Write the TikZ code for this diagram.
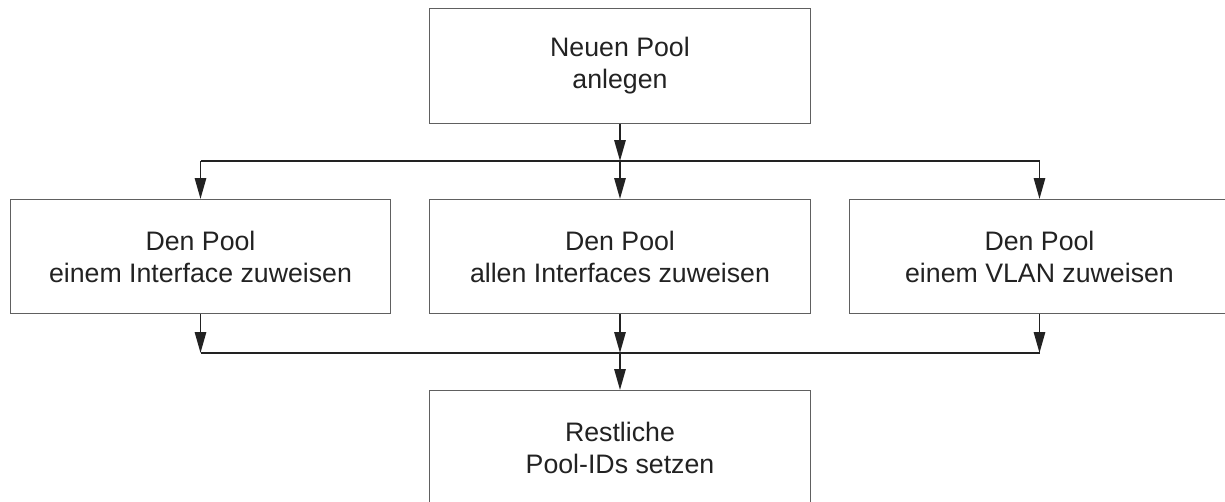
\documentclass[tikz,border=0pt]{standalone}
\usepackage{fontspec}
\setmainfont{Liberation Sans}
\usepackage{tikz}
\usetikzlibrary{positioning,arrows.meta,calc}
\usepackage{xcolor}
\definecolor{ink}{HTML}{222222}
\definecolor{rand}{HTML}{606060}

\begin{document}
\begin{tikzpicture}[
    x=0.025cm, y=-0.025cm,
    box/.style={rectangle, draw=rand, line width=0.7pt, minimum width=9.5cm, minimum height=2.85cm,
                font=\fontsize{19}{22.7}\selectfont, text=ink, align=center, inner sep=2pt},
    arrow/.style={-{Triangle[length=5.2mm, width=2.8mm]}, line width=1.4pt, draw=ink},
    bus/.style={line width=1.4pt, draw=ink},
]
\useasboundingbox (0,0) rectangle (1225,501);
\clip (0,0) rectangle (1225,501);

% Boxes
\node[box] (neu)   at (620, 66)    {Neuen Pool\\anlegen};
\node[box] (iface) at (200.5, 256.5) {Den Pool\\einem Interface zuweisen};
\node[box] (alle)  at (620, 256.5)  {Den Pool\\allen Interfaces zuweisen};
\node[box] (vlan)  at (1039.5, 256.5) {Den Pool\\einem VLAN zuweisen};
\node[box] (rest)  at (620, 447.5)  {Restliche\\Pool-IDs setzen};

% Upper bus
\coordinate (verteiler) at (620, 161);
\draw[arrow] (neu.south) -- (verteiler);
\draw[bus] (iface.north |- verteiler) -- (vlan.north |- verteiler);
\foreach \n in {iface, alle, vlan} {
    \draw[arrow] (\n.north |- verteiler) -- (\n.north);
}

% Lower bus
\coordinate (sammler) at (620, 353);
\foreach \n in {iface, alle, vlan} {
    \draw[arrow] (\n.south) -- (\n.south |- sammler);
}
\draw[bus] (iface.south |- sammler) -- (vlan.south |- sammler);
\draw[arrow] (sammler) -- (rest.north);
\end{tikzpicture}
\end{document}
